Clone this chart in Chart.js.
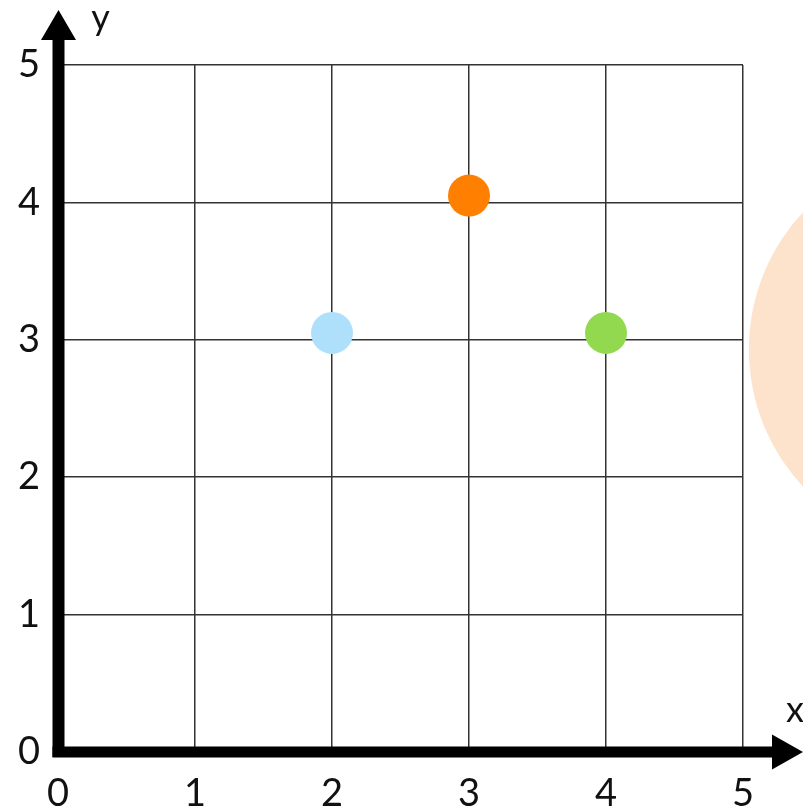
<!DOCTYPE html>
<html>
<head>
<meta charset="utf-8">
<script src="https://cdn.jsdelivr.net/npm/chart.js@4.4.1/dist/chart.umd.min.js"></script>
<style>
html,body{margin:0;padding:0;background:#fff;}
#wrap{width:803px;height:812px;}
</style>
</head>
<body>
<div id="wrap"><canvas id="c" width="803" height="812"></canvas></div>
<script>
const xTicks = [0, 1, 2, 3, 4, 5];
const yTicks = [0, 1, 2, 3, 4, 5];
const pointX = [2, 3, 4];
const pointY = [3.05, 4.05, 3.05];
const pointColors = ['#aee0fb', '#ff8000', '#92d94f'];
const decoX = [6.51];
const decoY = [2.93];
const axisNames = ['x', 'y'];

const FONT = 'Lato, "Noto Sans", sans-serif';

const axesPlugin = {
  id: 'axesArrows',
  afterDraw(chart) {
    const ctx = chart.ctx;
    const xs = chart.scales.x, ys = chart.scales.y;
    const x0 = xs.getPixelForValue(0) + 0.5;
    const y0 = ys.getPixelForValue(0);
    const top = ys.getPixelForValue(5);
    const right = xs.getPixelForValue(5);
    ctx.save();
    ctx.fillStyle = '#000';
    // y shaft
    ctx.fillRect(x0 - 6, 40, 12, y0 + 5 - 40);
    // y arrow
    ctx.beginPath();
    ctx.moveTo(x0, top - 55);
    ctx.lineTo(x0 + 17.5, top - 25);
    ctx.lineTo(x0 - 17.5, top - 25);
    ctx.closePath();
    ctx.fill();
    // x shaft
    ctx.fillRect(x0 - 6, y0 - 5.5, right + 30 - (x0 - 6), 11);
    // x arrow
    ctx.beginPath();
    ctx.moveTo(right + 60, y0);
    ctx.lineTo(right + 29, y0 - 17.5);
    ctx.lineTo(right + 29, y0 + 17.5);
    ctx.closePath();
    ctx.fill();
    // axis names
    ctx.font = '36px ' + FONT;
    ctx.textAlign = 'center';
    ctx.textBaseline = 'middle';
    ctx.fillStyle = '#111';
    ctx.fillText(axisNames[1], x0 + 42, top - 47);
    ctx.fillText(axisNames[0], right + 52, y0 - 42);
    ctx.restore();
  }
};

new Chart(document.getElementById('c'), {
  type: 'scatter',
  data: {
    datasets: [
      {
        data: pointX.map((x, i) => ({x, y: pointY[i]})),
        backgroundColor: pointColors,
        borderWidth: 0,
        pointRadius: 21,
        pointHoverRadius: 21
      },
      {
        data: decoX.map((x, i) => ({x, y: decoY[i]})),
        backgroundColor: '#fde3cc',
        borderWidth: 0,
        pointRadius: 201,
        pointHoverRadius: 250,
        clip: false
      }
    ]
  },
  options: {
    responsive: false,
    animation: false,
    events: [],
    layout: { autoPadding: false, padding: { top: 65, right: 60, left: 0, bottom: 0 } },
    plugins: { legend: { display: false }, tooltip: { enabled: false } },
    scales: {
      x: {
        type: 'linear', min: 0, max: 5,
        afterBuildTicks(s) { s.ticks = xTicks.map(v => ({value: v})); },
        afterFit(s) { s.height = 60; },
        border: { display: false },
        grid: { color: '#333', lineWidth: 1.5, drawTicks: false },
        ticks: {
          padding: 19, color: '#111',
          font: { size: 38, family: FONT },
          maxRotation: 0, autoSkip: false
        }
      },
      y: {
        type: 'linear', min: 0, max: 5,
        afterBuildTicks(s) { s.ticks = yTicks.map(v => ({value: v})); },
        afterFit(s) { s.width = 58; },
        border: { display: false },
        grid: { color: '#333', lineWidth: 1.5, drawTicks: false },
        ticks: {
          padding: 18, color: '#111',
          font: { size: 38, family: FONT },
          autoSkip: false
        }
      }
    }
  },
  plugins: [axesPlugin]
});
</script>
</body>
</html>
